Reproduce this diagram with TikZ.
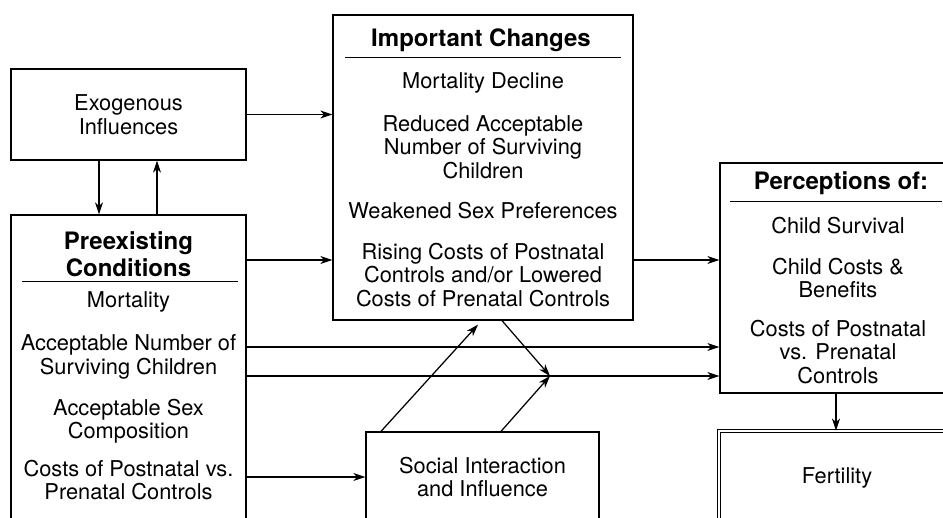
\documentclass[tikz,border=0pt]{standalone}
\usepackage{fontspec}
\setmainfont{TeX Gyre Heros}
\usetikzlibrary{arrows.meta}
\begin{document}
\begin{tikzpicture}[x=1pt,y=-1pt,
  box/.style={draw,line width=1.25pt,rectangle,inner sep=0pt,align=center,
    font=\fontsize{21.8}{23.5}\selectfont},
  dbox/.style={box,double,double distance=2pt,line width=0.9pt},
  item/.style={align=center,inner sep=0pt,font=\fontsize{21.8}{23.5}\selectfont},
  head/.style={align=center,inner sep=0pt,font=\bfseries\fontsize{24}{27}\selectfont},
  rule/.style={line width=1pt},
  arr/.style={line width=1.25pt,-{Stealth[length=12pt,width=8pt,inset=3.5pt]}}]
\useasboundingbox (0,0) rectangle (943,518);
\clip (0,0) rectangle (943,518);

% boxes
\node[box,minimum width=235pt,minimum height=91pt] (exo) at (128.5,114.5) {Exogenous\\Influences};
\node[box,minimum width=235pt,minimum height=325pt] (pre) at (128.5,377.5) {};
\node[box,minimum width=300pt,minimum height=305pt] (imp) at (483,167.5) {};
\node[box,minimum width=232pt,minimum height=230pt] (per) at (836,278) {};
\node[dbox,minimum width=236pt,minimum height=94pt] (fert) at (837,478) {Fertility};
\node[box,minimum width=233pt,minimum height=90pt] (soc) at (482.5,477) {Social Interaction\\and Influence};

% preexisting conditions
\node[head] (preT) at (128.5,254) {Preexisting\\Conditions};
\draw[rule] (22,282) -- (238,282);
\node[item] (pre1) at (128.5,302) {Mortality};
\node[item] (pre2) at (128.5,357) {Acceptable Number of\\Surviving Children};
\node[item] (pre3) at (128.5,421) {Acceptable Sex\\Composition};
\node[item] (pre4) at (128.5,480) {Costs of Postnatal vs.\\Prenatal Controls};

% important changes
\node[head] (impT) at (481,40) {Important Changes};
\draw[rule] (345,58) -- (621,58);
\node[item] (imp1) at (483,83) {Mortality Decline};
\node[item] (imp2) at (483,147) {Reduced Acceptable\\Number of Surviving\\Children};
\node[item] (imp3) at (483,211) {Weakened Sex Preferences};
\node[item] (imp4) at (483,275) {Rising Costs of Postnatal\\Controls and/or Lowered\\Costs of Prenatal Controls};

% perceptions
\node[head] (perT) at (841,183) {Perceptions of:};
\draw[rule] (730,202) -- (942,202);
\node[item] (per1) at (838,226) {Child Survival};
\node[item] (per2) at (838,278) {Child Costs \&\\Benefits};
\node[item] (per3) at (838,352) {Costs of Postnatal\\vs. Prenatal\\Controls};

% connector levels
\coordinate (r1) at (0,260);
\coordinate (r2) at (0,347);
\coordinate (r3) at (0,376);
\coordinate (join) at (550,376);

% connectors
\draw[arr] (exo.east) -- (imp.west |- exo.east);
\draw[arr] ([xshift=-29.5pt]exo.south) -- ([xshift=-29.5pt]pre.north);
\draw[arr] ([xshift=28.5pt]pre.north) -- ([xshift=28.5pt]exo.south);
\draw[arr] (pre.east |- r1) -- (imp.west |- r1);
\draw[arr] (imp.east |- r1) -- (per.west |- r1);
\draw[arr] (pre.east |- r2) -- (per.west |- r2);
\draw[arr] (pre.east |- r3) -- (per.west |- r3);
\draw[arr] (pre.east |- soc.west) -- (soc.west);
\draw[arr] (per.south) -- (per.south |- fert.north);
\draw[arr] ([xshift=-101.5pt]soc.north) -- ([xshift=-5pt,yshift=-4pt]imp.south);
\draw[arr] ([xshift=18.5pt]soc.north) -- (join);
\draw[arr] ([xshift=19pt]imp.south) -- (join);
\end{tikzpicture}
\end{document}
